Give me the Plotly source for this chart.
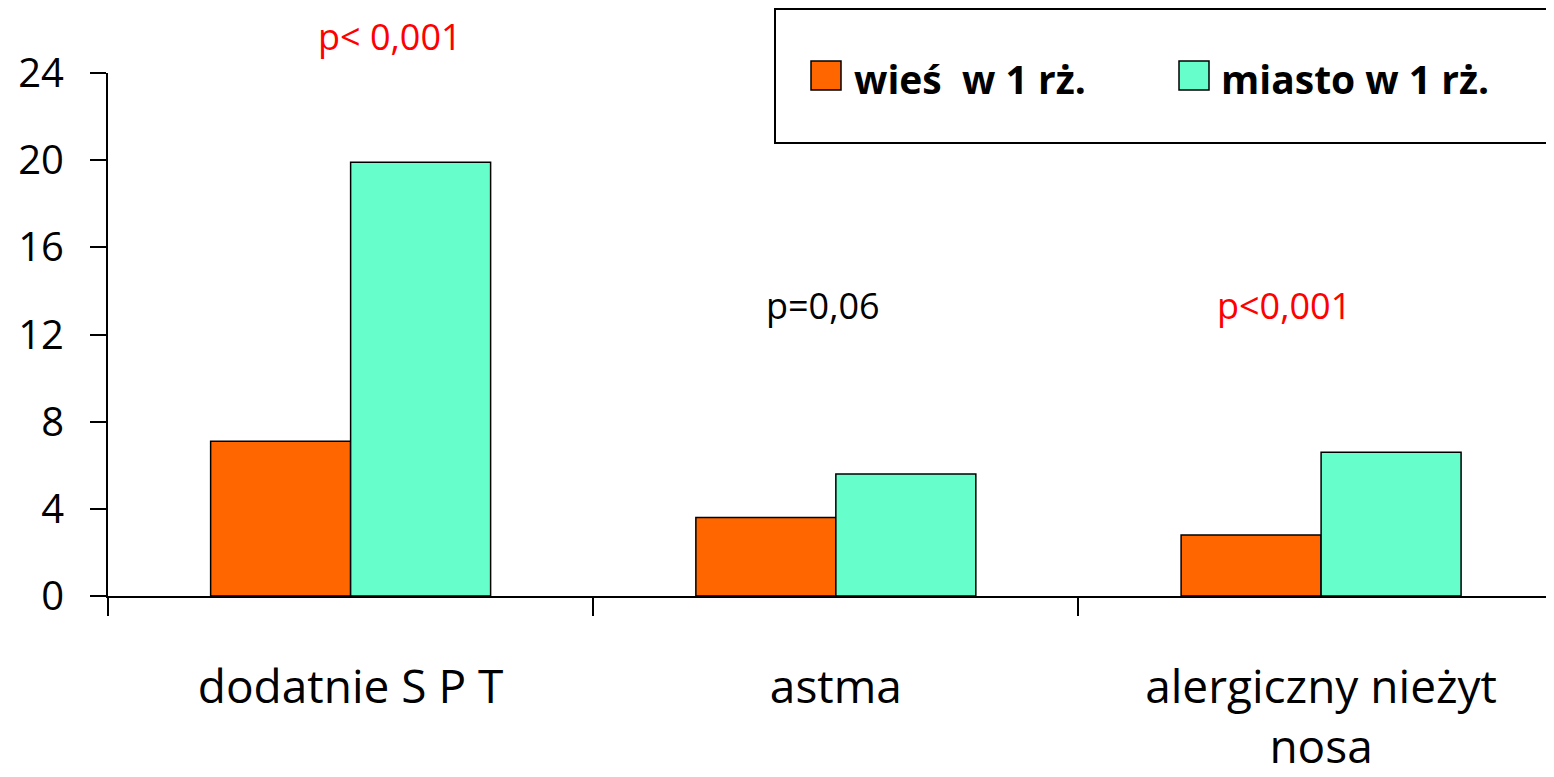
import plotly.graph_objects as go

categories = ["dodatnie S P T", "astma", "alergiczny nieżyt<br>nosa"]
series_names = ["wieś  w 1 rż.", "miasto w 1 rż."]
wies_values = [7.1, 3.6, 2.8]
miasto_values = [19.9, 5.6, 6.6]
colors = ["#FF6600", "#66FFCC"]
y_ticks = [0, 4, 8, 12, 16, 20, 24]
p_labels = ["p< 0,001", "p=0,06", "p<0,001"]
p_colors = ["red", "black", "red"]

OFF = 8  # page body margin
W, H = 1554, 777
L, R, T, B = 108 - OFF, OFF, 73 - OFF, 777 - 596 + OFF
PW, PH = W - L - R, H - T - B

def px_x(px):
    return (px - OFF - L) / PW

def px_y(py):
    return (H - B - (py - OFF)) / PH

FONT = "Open Sans"

fig = go.Figure()
for name, vals, col in zip(series_names, [wies_values, miasto_values], colors):
    fig.add_trace(go.Bar(
        x=categories, y=vals, name=name, showlegend=False,
        marker=dict(color=col, line=dict(color="black", width=1.5)),
    ))

# p-value annotations (pixel-anchored positions)
p_pos = [(390, 37), (823, 305), (1284, 305)]
for txt, c, (xx, yy) in zip(p_labels, p_colors, p_pos):
    fig.add_annotation(x=px_x(xx), y=px_y(yy), xref="paper", yref="paper", text=txt,
                       showarrow=False, xanchor="center", yanchor="middle",
                       font=dict(family=FONT, size=36, color=c))

# custom legend
shapes = [dict(type="rect", xref="paper", yref="paper",
               x0=px_x(775), x1=px_x(1552), y0=px_y(143), y1=px_y(9),
               line=dict(color="black", width=2), fillcolor="white", layer="below")]
sw = [(811, 841), (1179, 1209)]
tx = [852, 1219]
for (a, b), col, name, t in zip(sw, colors, series_names, tx):
    shapes.append(dict(type="rect", xref="paper", yref="paper",
                       x0=px_x(a), x1=px_x(b), y0=px_y(90), y1=px_y(61),
                       line=dict(color="black", width=1.5), fillcolor=col))
    fig.add_annotation(x=px_x(t), y=px_y(78), xref="paper", yref="paper",
                       xanchor="left", yanchor="middle", text="<b>" + name + "</b>",
                       showarrow=False, font=dict(family=FONT, size=39, color="black"))

fig.update_layout(
    width=W, height=H,
    margin=dict(l=L, r=R, t=T, b=B, pad=0),
    paper_bgcolor="white", plot_bgcolor="white",
    barmode="group", bargap=0.423, bargroupgap=0,
    shapes=shapes,
    font=dict(family=FONT, color="black"),
    xaxis=dict(type="category", range=[-0.5, 2.48], tickson="boundaries",
               ticks="outside", ticklen=18, tickwidth=2, tickcolor="black",
               showline=True, linecolor="black", linewidth=2, showgrid=False,
               ticklabelstandoff=50,
               tickfont=dict(family=FONT, size=46, color="black")),
    yaxis=dict(range=[0, 24], tickvals=y_ticks, ticks="outside", ticklen=16,
               tickwidth=2, tickcolor="black", showline=True, linecolor="black",
               linewidth=2, showgrid=False, zeroline=False, ticklabelstandoff=18,
               tickfont=dict(family=FONT, size=40, color="black")),
)

fig.write_html("out.html")
